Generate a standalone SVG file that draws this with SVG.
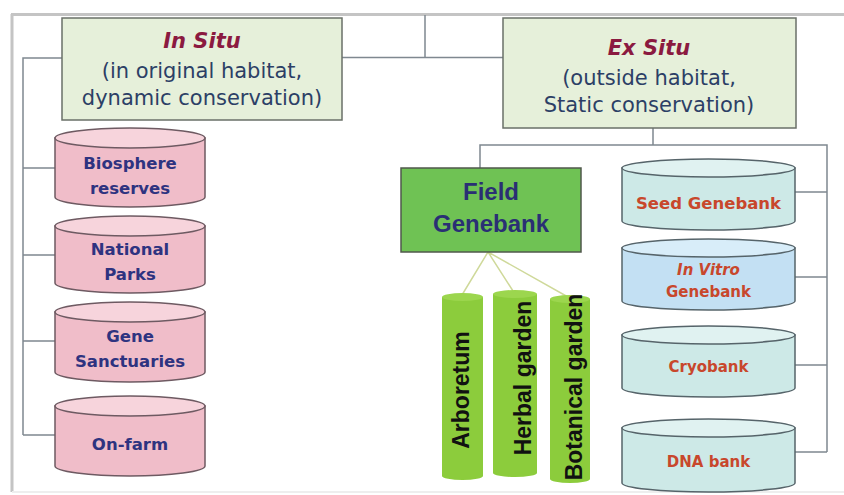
<svg xmlns="http://www.w3.org/2000/svg" width="844" height="495" viewBox="0 0 844 495">
<style>
.frame{stroke:#c4c4c4;stroke-width:3;fill:none}
.conn{stroke:#7f8890;stroke-width:1.5;fill:none}
.leaf{stroke:#cfd99a;stroke-width:1.5;fill:none}
.hbox{fill:#e6f0da;stroke:#6a7068;stroke-width:1.5}
.title{font-family:"DejaVu Sans",sans-serif;font-size:21px;font-weight:bold;font-style:italic;fill:#8b1a40;text-anchor:middle}
.sub{font-family:"DejaVu Sans",sans-serif;font-size:21px;fill:#2c3f66;text-anchor:middle}
.pink{fill:#f0bdc9;stroke:#6e5a62;stroke-width:1.5}
.pinktop{fill:#f7d4dc;stroke:#6e5a62;stroke-width:1.5}
.teal{fill:#cde9e7;stroke:#56646a;stroke-width:1.5}
.tealtop{fill:#e0f2f1;stroke:#56646a;stroke-width:1.5}
.blue{fill:#c3e0f3;stroke:#56646a;stroke-width:1.5}
.bluetop{fill:#d8edf9;stroke:#56646a;stroke-width:1.5}
.ltxt{font-family:"DejaVu Sans",sans-serif;font-size:16.5px;font-weight:bold;fill:#2e3380;text-anchor:middle}
.rtxt{font-family:"DejaVu Sans",sans-serif;font-size:15px;font-weight:bold;fill:#c8472c;text-anchor:middle}
.field{fill:#6fc254;stroke:#50584c;stroke-width:1.5}
.ftxt{font-family:"Liberation Sans",Arial,sans-serif;font-size:24px;font-weight:bold;fill:#2a2f74;text-anchor:middle}
.pillar{fill:#8ccc3c}
.pillartop{fill:#9cd64e}
.ptxt{font-family:"Liberation Sans",Arial,sans-serif;font-size:23px;font-weight:bold;fill:#111;text-anchor:middle}
</style>
<rect width="844" height="495" fill="#ffffff"/>
<g id="frame">
<line class="frame" x1="11" y1="14.5" x2="844" y2="14.5"/>
<line class="frame" x1="12" y1="14" x2="12" y2="492"/>
<line x1="12" y1="492" x2="844" y2="492" stroke="#eeeeee" stroke-width="2"/>
</g>
<g id="connectors">
<path class="conn" d="M342,57.5 H425 M425,15 V57.5 H503"/>
<path class="conn" d="M62,58 H23 V435 M23,168 H55 M23,255 H55 M23,341 H55 M23,435 H55"/>
<path class="conn" d="M653,128 V145 M480,168 V145 H827 V452 M795,192 H827 M795,277 H827 M795,365 H827 M795,452 H827"/>
<path class="leaf" d="M488,252 L462,295 M488,252 L513,291 M488,252 L568,297"/>
</g>
<g id="in-situ">
<rect class="hbox" x="62" y="18" width="280" height="102"/>
<text class="title" x="202" y="48">In Situ</text>
<text class="sub" x="202" y="78">(in original habitat,</text>
<text class="sub" x="202" y="105">dynamic conservation)</text>
</g>
<g id="ex-situ">
<rect class="hbox" x="503" y="18" width="293" height="110"/>
<text class="title" x="649" y="55">Ex Situ</text>
<text class="sub" x="649" y="85">(outside habitat,</text>
<text class="sub" x="649" y="112">Static conservation)</text>
</g>
<g id="biosphere-reserves">
<path class="pink" d="M55,138 V197 A75,10 0 0 0 205,197 V138 Z"/>
<ellipse class="pinktop" cx="130" cy="138" rx="75" ry="10"/>
<text class="ltxt" x="130" y="169">Biosphere</text>
<text class="ltxt" x="130" y="194">reserves</text>
</g>
<g id="national-parks">
<path class="pink" d="M55,226 V283 A75,10 0 0 0 205,283 V226 Z"/>
<ellipse class="pinktop" cx="130" cy="226" rx="75" ry="10"/>
<text class="ltxt" x="130" y="255">National</text>
<text class="ltxt" x="130" y="280">Parks</text>
</g>
<g id="gene-sanctuaries">
<path class="pink" d="M55,312 V372 A75,10 0 0 0 205,372 V312 Z"/>
<ellipse class="pinktop" cx="130" cy="312" rx="75" ry="10"/>
<text class="ltxt" x="130" y="342">Gene</text>
<text class="ltxt" x="130" y="367">Sanctuaries</text>
</g>
<g id="on-farm">
<path class="pink" d="M55,406 V466 A75,10 0 0 0 205,466 V406 Z"/>
<ellipse class="pinktop" cx="130" cy="406" rx="75" ry="10"/>
<text class="ltxt" x="130" y="450">On-farm</text>
</g>
<g id="field-genebank">
<rect class="field" x="401" y="168" width="180" height="84"/>
<text class="ftxt" x="491" y="200">Field</text>
<text class="ftxt" x="491" y="232">Genebank</text>
</g>
<g id="arboretum">
<path class="pillar" d="M442,297 V476 A20.5,4 0 0 0 483,476 V297 Z"/>
<ellipse class="pillartop" cx="462.5" cy="297" rx="20.5" ry="4"/>
<text class="ptxt" transform="translate(469,390) rotate(-90)">Arboretum</text>
</g>
<g id="herbal-garden">
<path class="pillar" d="M493,294 V473 A22,4 0 0 0 537,473 V294 Z"/>
<ellipse class="pillartop" cx="515" cy="294" rx="22" ry="4"/>
<text class="ptxt" transform="translate(531,378) rotate(-90)">Herbal garden</text>
</g>
<g id="botanical-garden">
<path class="pillar" d="M550,299 V479 A20,4 0 0 0 590,479 V299 Z"/>
<ellipse class="pillartop" cx="570" cy="299" rx="20" ry="4"/>
<text class="ptxt" transform="translate(582,387) rotate(-90)">Botanical garden</text>
</g>
<g id="seed-genebank">
<path class="teal" d="M622,168 V221 A86.5,9 0 0 0 795,221 V168 Z"/>
<ellipse class="tealtop" cx="708.5" cy="168" rx="86.5" ry="9"/>
<text class="rtxt" x="708.5" y="209" style="font-size:16.5px">Seed Genebank</text>
</g>
<g id="in-vitro-genebank">
<path class="blue" d="M622,248 V301 A86.5,9 0 0 0 795,301 V248 Z"/>
<ellipse class="bluetop" cx="708.5" cy="248" rx="86.5" ry="9"/>
<text class="rtxt" x="708.5" y="275" style="font-style:italic">In Vitro</text>
<text class="rtxt" x="708.5" y="297">Genebank</text>
</g>
<g id="cryobank">
<path class="teal" d="M622,335 V388 A86.5,9 0 0 0 795,388 V335 Z"/>
<ellipse class="tealtop" cx="708.5" cy="335" rx="86.5" ry="9"/>
<text class="rtxt" x="708.5" y="372">Cryobank</text>
</g>
<g id="dna-bank">
<path class="teal" d="M622,428 V483 A86.5,9 0 0 0 795,483 V428 Z"/>
<ellipse class="tealtop" cx="708.5" cy="428" rx="86.5" ry="9"/>
<text class="rtxt" x="708.5" y="467">DNA bank</text>
</g>
</svg>
